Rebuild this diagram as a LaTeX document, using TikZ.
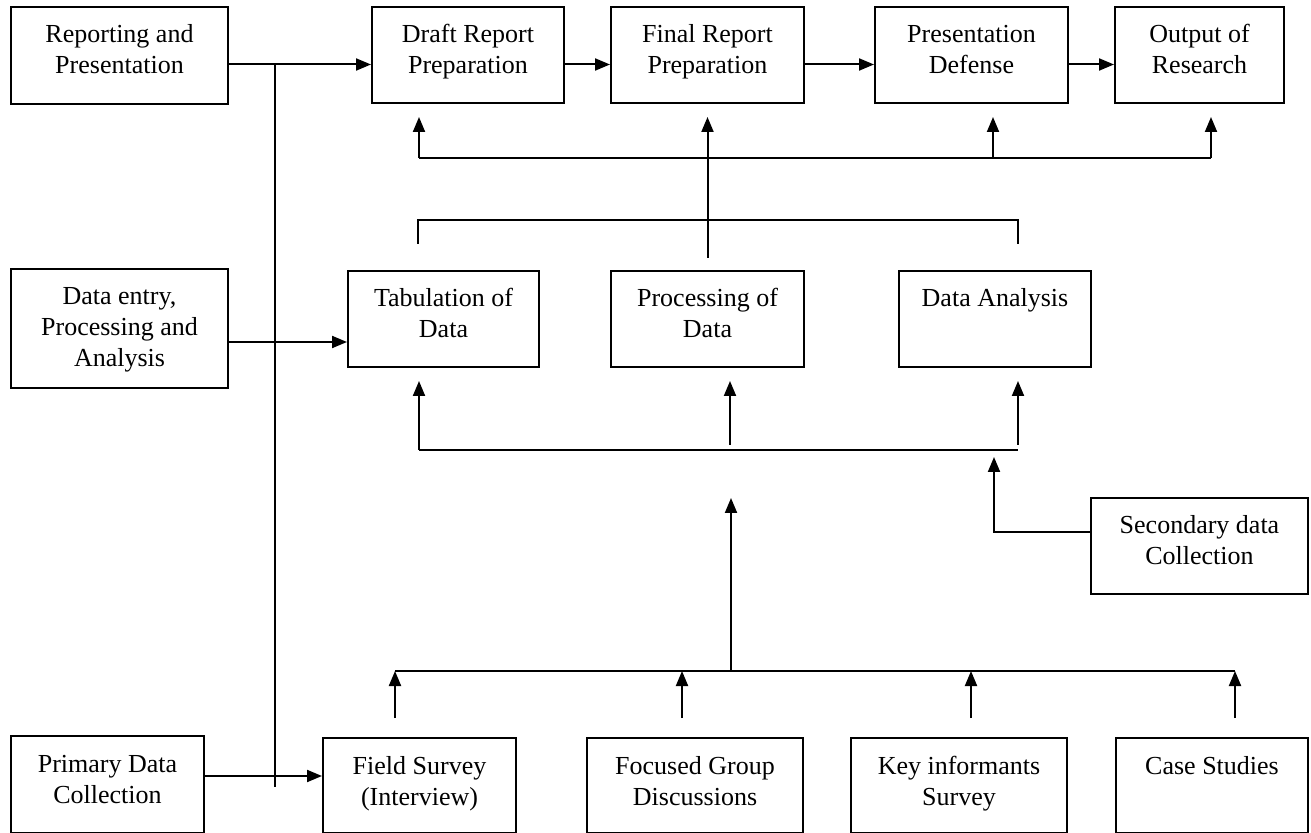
\documentclass[tikz,border=0pt]{standalone}
\usepackage{fontspec}
\setmainfont{Liberation Serif}
\usetikzlibrary{arrows.meta,positioning}

% box text: width, height, lines (top aligned)
\newcommand{\boxtext}[3]{\parbox[c][#2][t]{#1}{\centering\rule{0pt}{18pt}#3}}

\begin{document}
\begin{tikzpicture}[
        x=0.5pt, y=-0.5pt, line width=1pt,
        box/.style={rectangle, draw=black, inner sep=0pt, anchor=north west, font=\fontsize{13}{15.5}\selectfont},
        arrow/.style={-{Triangle[length=7.5pt,width=6pt]}}
    ]
    \useasboundingbox (0,0) rectangle (1311,833);

    % Stage boxes (left column)
    \node[box] (rep) at (10,6) {\boxtext{108.5pt}{48.5pt}{Reporting and\\Presentation}};
    \node[box] (entry) at (10,268) {\boxtext{108.5pt}{59.5pt}{Data entry,\\Processing and\\Analysis}};
    \node[box] (prim) at (10,735) {\boxtext{96.5pt}{48.5pt}{Primary Data\\Collection}};

    % Reporting row
    \node[box] (draft) at (371,6) {\boxtext{96pt}{48pt}{Draft Report\\Preparation}};
    \node[box] (final) at (610,6) {\boxtext{96.5pt}{48pt}{Final Report\\Preparation}};
    \node[box] (pres) at (874,6) {\boxtext{96.5pt}{48pt}{Presentation\\Defense}};
    \node[box] (out) at (1114,6) {\boxtext{84.5pt}{48pt}{Output of\\Research}};

    % Data row
    \node[box] (tab) at (347,270) {\boxtext{95.5pt}{48pt}{Tabulation of\\Data}};
    \node[box] (proc) at (610,270) {\boxtext{96.5pt}{48pt}{Processing of\\Data}};
    \node[box] (anal) at (898,270) {\boxtext{96pt}{48pt}{Data Analysis}};

    % Secondary data
    \node[box] (sec) at (1090,497) {\boxtext{108.5pt}{48pt}{Secondary data\\Collection}};

    % Collection row
    \node[box] (field) at (322,737) {\boxtext{96.5pt}{47.5pt}{Field Survey\\(Interview)}};
    \node[box] (focus) at (586,737) {\boxtext{108pt}{47.5pt}{Focused Group\\Discussions}};
    \node[box] (key) at (850,737) {\boxtext{108pt}{47.5pt}{Key informants\\Survey}};
    \node[box] (case) at (1115,737) {\boxtext{96pt}{47.5pt}{Case Studies}};

    % Bus points
    \coordinate (r1) at ([yshift=-4.5pt]rep.east);
    \coordinate (e1) at ([yshift=-6.75pt]entry.east);
    \coordinate (p1) at ([yshift=4.25pt]prim.east);
    \coordinate (vtop) at (275,64);
    \coordinate (vbot) at (275,787);
    \coordinate (ub1) at (419,158);
    \coordinate (ub3) at (993,158);
    \coordinate (ub4) at (1211,158);
    \coordinate (mb1) at (418,220);
    \coordinate (mb2) at (1018,220);
    \coordinate (lb1) at (419,450);
    \coordinate (lb2) at (730,450);
    \coordinate (lb3) at (1018,450);
    \coordinate (lbs) at (994,450);
    \coordinate (bb1) at (395,671);
    \coordinate (bb2) at (682,671);
    \coordinate (bb3) at (971,671);
    \coordinate (bb4) at (1235,671);
    \coordinate (bbc) at (731,671);

    % Left stages into their rows
    \draw (vtop) -- (vbot);
    \draw[arrow] (r1) -- (r1 -| draft.west);
    \draw[arrow] (e1) -- (e1 -| tab.west);
    \draw[arrow] (p1) -- (p1 -| field.west);

    % Reporting chain
    \draw[arrow] (draft.east |- r1) -- (final.west |- r1);
    \draw[arrow] (final.east |- r1) -- (pres.west |- r1);
    \draw[arrow] (pres.east |- r1) -- (out.west |- r1);

    % Upper bus into reporting row
    \draw (ub1) -- (ub4);
    \draw[arrow, shorten >=6.5pt] (ub1) -- (ub1 |- draft.south);
    \draw[arrow, shorten >=6.5pt] (ub3) -- (ub3 |- pres.south);
    \draw[arrow, shorten >=6.5pt] (ub4) -- (ub4 |- out.south);
    \draw[arrow, shorten <=6pt, shorten >=6.5pt] (proc.north) -- (final.south);

    % Bracket over data row
    \draw ([yshift=-12pt]mb1) -- (mb1) -- (mb2) -- ([yshift=-12pt]mb2);

    % Lower bus into data row
    \draw (lb1) -- (lb3);
    \draw[arrow, shorten >=6.5pt] (lb1) -- (lb1 |- tab.south);
    \draw[arrow, shorten <=2.5pt, shorten >=6.5pt] (lb2) -- (lb2 |- proc.south);
    \draw[arrow, shorten <=2.5pt, shorten >=6.5pt] (lb3) -- (lb3 |- anal.south);
    \draw[arrow, shorten >=3.5pt] ([yshift=7pt]sec.west) -| (lbs);

    % Collection bus
    \draw (bb1) -- (bb4);
    \draw[arrow, shorten >=24pt] (bbc) -- (bbc |- lb1);
    \draw[arrow, shorten <=9.5pt] (bb1 |- field.north) -- (bb1);
    \draw[arrow, shorten <=9.5pt] (bb2 |- focus.north) -- (bb2);
    \draw[arrow, shorten <=9.5pt] (bb3 |- key.north) -- (bb3);
    \draw[arrow, shorten <=9.5pt] (bb4 |- case.north) -- (bb4);

\end{tikzpicture}
\end{document}
